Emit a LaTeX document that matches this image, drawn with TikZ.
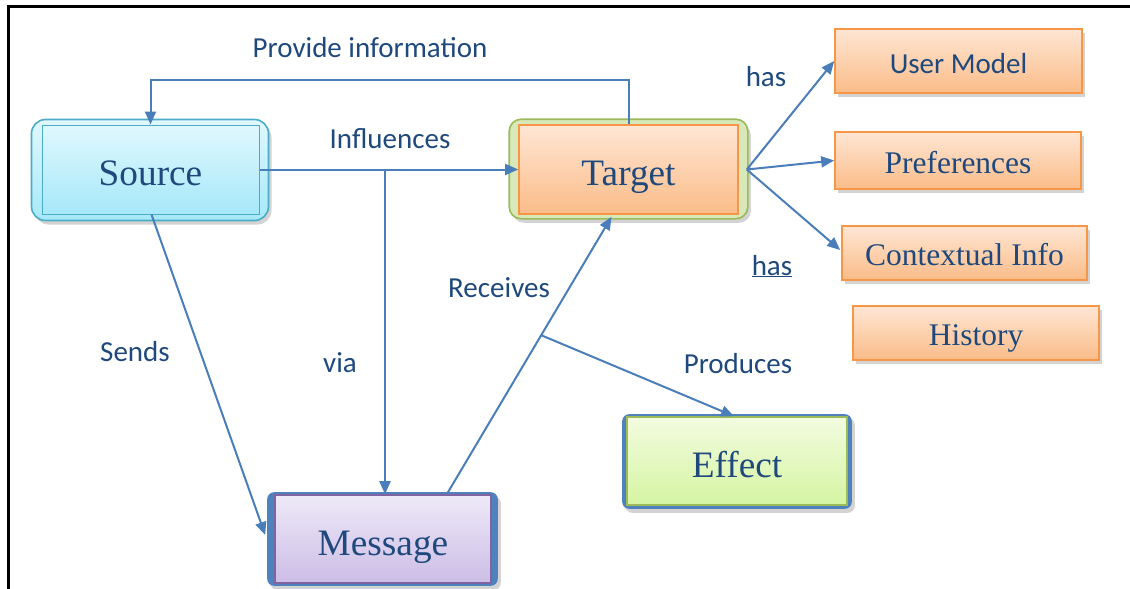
\documentclass[tikz,border=0pt]{standalone}
\usepackage{fontspec}
\usetikzlibrary{arrows.meta,calc,shadows,backgrounds}
\newfontfamily\boxfont{Liberation Serif}
\newfontfamily\labfont{Carlito}

\definecolor{txt}{HTML}{1F497D}
\definecolor{ln}{HTML}{4A7EBB}
\definecolor{tealE}{HTML}{4BACC6}
\definecolor{cyanT}{HTML}{E0F8FE}
\definecolor{cyanB}{HTML}{A6E8F9}
\definecolor{grnE}{HTML}{9BBB59}
\definecolor{grnF}{HTML}{D8E8B8}
\definecolor{orgE}{HTML}{F79646}
\definecolor{orgT}{HTML}{FEE6D4}
\definecolor{orgB}{HTML}{FBBC88}
\definecolor{purE}{HTML}{8064A2}
\definecolor{purT}{HTML}{EEE9F8}
\definecolor{purB}{HTML}{CCBDE6}
\definecolor{bluE}{HTML}{4F81BD}
\definecolor{limT}{HTML}{F3FBE0}
\definecolor{limB}{HTML}{D5F5A2}

\tikzset{
  big/.style={inner sep=0pt, text=txt, text height=32pt, text depth=0pt,
    font=\boxfont\fontsize{37.3}{40}\selectfont},
  small/.style={inner sep=0pt, text=txt, draw=orgE, line width=1.6pt,
    top color=orgT, bottom color=orgB, text height=25pt, text depth=0pt,
    drop shadow={opacity=0.35, shadow xshift=3pt, shadow yshift=-4pt},
    font=\boxfont\fontsize{31.5}{34}\selectfont},
  lbl/.style={anchor=base, text=txt, font=\labfont\fontsize{29}{32}\selectfont},
  conn/.style={draw=ln, line width=2pt, -{Triangle[length=13pt,width=11pt]}},
  shade/.style={drop shadow={opacity=0.35, shadow xshift=3pt, shadow yshift=-4pt}},
}

\begin{document}
\begin{tikzpicture}[x=1pt,y=-1pt]
\useasboundingbox (0,0) rectangle (1130,589);

% frame lines
\draw[line width=3pt, black] (8,589) -- (8,6) -- (1130,6);

% main concepts
\node[big, draw=tealE, line width=1pt, top color=cyanT, bottom color=cyanB,
      minimum width=217pt, minimum height=89pt] (src) at (150.5,169.5) {Source};
\node[big, draw=orgE, line width=1.6pt, top color=orgT, bottom color=orgB,
      minimum width=219pt, minimum height=89pt] (tgt) at (628.5,169.5) {Target};
\node[big, draw=purE, line width=1.6pt, top color=purT, bottom color=purB,
      minimum width=216pt, minimum height=88pt] (msg) at (383,539) {Message};
\node[big, draw=grnE, line width=1.6pt, top color=limT, bottom color=limB,
      minimum width=220pt, minimum height=88pt] (eff) at (737,461) {Effect};

% outer frames behind the main concepts
\begin{scope}[on background layer]
  \draw[shade, draw=tealE, line width=1.6pt, top color=cyanT, bottom color=cyanB,
        rounded corners=14pt]
    ($(src.north west)+(-10,-5)$) rectangle ($(src.south east)+(9,6)$);
  \draw[shade, draw=grnE, line width=1.6pt, fill=grnF, rounded corners=12pt]
    ($(tgt.north west)+(-9,-5)$) rectangle ($(tgt.south east)+(9,4)$);
  \fill[shade, bluE, rounded corners=7pt]
    ($(msg.north west)+(-7,-2)$) rectangle ($(msg.south east)+(6,2)$);
  \fill[shade, bluE, rounded corners=7pt]
    ($(eff.north west)+(-4,-2)$) rectangle ($(eff.south east)+(4,3)$);
\end{scope}

% target attributes
\node[small, minimum width=247pt, minimum height=64pt] (um)   at (958.5,61)  {\labfont\fontsize{29}{32}\selectfont User Model};
\node[small, minimum width=246pt, minimum height=57pt] (pref) at (958,160.5) {Preferences};
\node[small, minimum width=245pt, minimum height=54pt] (ctx)  at (964.5,253) {Contextual Info};
\node[small, minimum width=246pt, minimum height=54pt] (hist) at (976,333)   {History};

% connectors
\coordinate (loop) at (0,80);
\draw[conn] (tgt.north) -- (tgt.north |- loop) -- (src.north |- loop) -- (src.north);
\draw[conn] (src.east) -- (tgt.west);
\coordinate (viaS) at (385,170);
\draw[conn] (viaS) -- (msg.north -| viaS);
\draw[conn] ($(src.south)+(1,0)$) -- ($(msg.west)+(-9,-4)$);
\draw[conn] ($(msg.north)+(65,-2)$) -- coordinate[pos=0.57] (prodS) ($(tgt.south)+(-17,2)$);
\draw[conn] (prodS) -- ($(eff.north)+(-3,0)$);
\coordinate (hasS) at ($(tgt.east)+(8,0)$);
\draw[conn] (hasS) -- (um.west);
\draw[conn] (hasS) -- (pref.west);
\draw[conn] (hasS) -- ($(ctx.west)+(-1,-3)$);

% connector labels
\node[lbl] (lProv) at (370,57)  {Provide information};
\node[lbl] (lInf)  at (390,148) {Influences};
\node[lbl] (lVia)  at (340,372) {via};
\node[lbl] (lSend) at (135,361) {Sends};
\node[lbl] (lRec)  at (499,297) {Receives};
\node[lbl] (lProd) at (738,373) {Produces};
\node[lbl] (lHas1) at (766,86)  {has};
\node[lbl] (lHas2) at (772,275) {\underline{has}};
\end{tikzpicture}
\end{document}
